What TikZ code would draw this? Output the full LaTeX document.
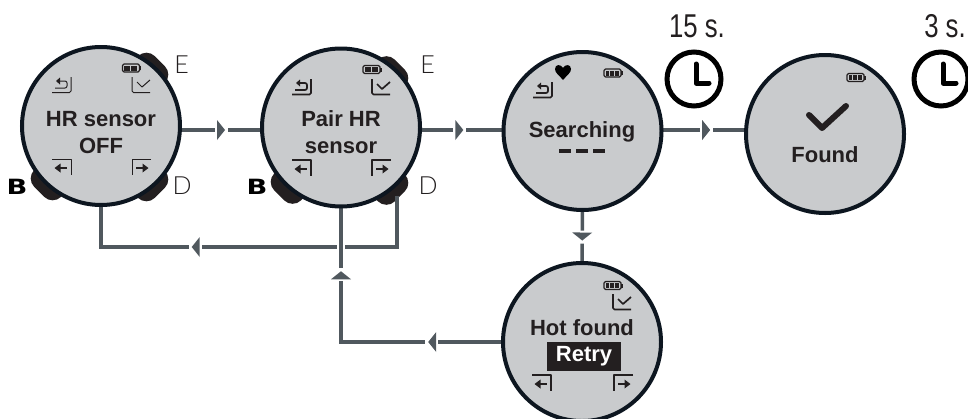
\documentclass[tikz,border=0pt]{standalone}
\usepackage{fontspec}
\setmainfont{Liberation Sans}
\newfontfamily\thinfont{Lato Light}
\newfontfamily\narrowfont[FakeStretch=0.78]{Liberation Sans}
\newfontfamily\widefont[FakeStretch=1.3]{DejaVu Sans Bold}
\usetikzlibrary{%
  calc,%
  backgrounds,%
  decorations.markings%
}
\definecolor{facegray}{HTML}{C9CBCD}
\definecolor{rimblack}{HTML}{0D1620}
\definecolor{flowgray}{HTML}{50585E}
\definecolor{inkblack}{HTML}{231F20}
\tikzset{
  watch/.style={circle,draw=rimblack,fill=facegray,line width=4pt,minimum size=158pt,inner sep=0pt},
  knob/.style={rectangle,rounded corners=12pt,fill=inkblack,minimum width=38pt,minimum height=25pt,inner sep=0pt,rotate=#1},
  screentext/.style={text=inkblack,font=\fontsize{22}{27}\selectfont\bfseries,align=center,inner sep=0pt},
  keylabel/.style={text=inkblack,font=\fontsize{25}{25}\thinfont,inner sep=0pt},
  boldkey/.style={text=black,font=\fontsize{21}{21}\widefont,inner sep=0pt},
  waittext/.style={text=inkblack,font=\fontsize{33}{33}\narrowfont,inner sep=0pt},
  clockface/.style={circle,draw=black,line width=5pt,minimum size=54pt,inner sep=0pt},
  clockhand/.style={black,line width=5pt,line cap=round,line join=round},
  flow/.style={flowgray,line width=3.5pt,line cap=rect},
  tip/.style={postaction=decorate,decoration={markings,mark=at position #1 with {
    \fill[white] (-6pt,-3pt) rectangle (7pt,3pt);
    \fill[flowgray] (-4pt,-10pt) -- (4pt,0pt) -- (-4pt,10pt) -- cycle;}}},
  icon/.style={inkblack,line width=1pt,line join=round},
  boldicon/.style={icon/.append style={line width=1.7pt}},
  pics/backicon/.style={code={
    \draw[icon,rounded corners=1.5pt] (-10,7.5) -- (9,7.5) -- (9,-8);
    \draw[icon,rounded corners=2pt] (-3,-4) -- (5,-4) -- (5,3) -- (-7,3);
    \fill[inkblack] (-6,-4) -- (-2,-7.5) -- (-2,-0.5) -- cycle;}},
  pics/checkicon/.style={code={
    \draw[icon,rounded corners=1.5pt] (-9,-8) -- (-9,7.5) -- (9,7.5);
    \draw[icon] (-4,-3) -- (1,2) -- (9,-5);}},
  pics/lefticon/.style={code={
    \draw[icon] (-10,-8) -- (9,-8) -- (9,8);
    \draw[inkblack,line width=2.6pt] (-2,1) -- (5,1);
    \fill[inkblack] (-7.5,1) -- (-1.5,-3.5) -- (-1.5,5.5) -- cycle;}},
  pics/battery/.style={code={
    \draw[icon,line width=1.2pt,rounded corners=1.5pt] (-9,-4) rectangle (8,4);
    \fill[inkblack] (8,-2) rectangle (9.8,2);
    \foreach \cell in {1,...,#1}
      \fill[inkblack] ({-7.5+(\cell-1)*14/#1},-2.5) rectangle ({-7.5+\cell*14/#1-0.8},2.5);}}
}

\begin{document}
\begin{tikzpicture}[x=1pt,y=-1pt]
  \useasboundingbox (0,0) rectangle (968,418);
  \node[watch] (hroff) at (101,126) {};
  \node[watch] (pair) at (341,127.5) {};
  \node[watch] (search) at (582.5,131) {};
  \node[watch] (found) at (825,134) {};
  \node[watch] (hot) at (582,342) {};
  \coordinate (link) at (0,130);
  \coordinate (rail) at (0,247);
  \coordinate (hotcorner) at (pair |- hot);

  \begin{scope}[on background layer]
    \foreach \face/\ey/\dy/\by in {hroff/-56/58/57,pair/-54/60/59} {
      \node[knob=-45] (\face-e) at ($(\face)+(50,\ey)$) {};
      \node[knob=45] (\face-d) at ($(\face)+(50,\dy)$) {};
      \node[knob=-45] (\face-b) at ($(\face)+(-53,\by)$) {};
    }
    \coordinate (dfoot) at ($(pair-d)+(6,10)$);
    \draw[flow,tip=0.5] (hroff |- link) -- (pair |- link);
    \draw[flow,tip=0.49] (pair |- link) -- (search |- link);
    \draw[flow,tip=0.51] (search |- link) -- (found |- link);
    \draw[flow,tip=0.5] (search) -- (hot);
    \draw[flow] (dfoot) -- (dfoot |- rail);
    \draw[flow,tip=0.68] (dfoot |- rail) -- (hroff |- rail);
    \draw[flow] (hroff |- rail) -- (hroff);
    \draw[white,line width=8pt] ($(pair |- rail)+(0,-3)$) -- ($(pair |- rail)+(0,3)$);
    \draw[flow,tip=0.43] (hot) -- (hotcorner);
    \draw[flow,tip=0.5] (hotcorner) -- (pair);
  \end{scope}

  \node[screentext] (hrofftext) at (101,133) {HR sensor\\OFF};
  \node[screentext] (pairtext) at (341,132.5) {Pair HR\\sensor};
  \node[screentext] (searchtext) at (582,132) {Searching};
  \node[screentext] (foundtext) at (825,155) {Found};
  \node[screentext] (hottext) at (582,328) {Hot found};
  \node[screentext,fill=inkblack,text=white,minimum width=74pt,minimum height=29pt] (retry) at (584,356.5) {Retry};
  \draw[inkblack,line width=4pt,dash pattern=on 12pt off 5pt] ($(searchtext)+(-23,19)$) -- ($(searchtext)+(24,19)$);
  \draw[inkblack,line width=6pt,line cap=round,line join=round] (809,115) -- (822,128) -- (846,106);

  \node[keylabel] (hroffelabel) at (181.5,64.5) {E};
  \node[keylabel] (hroffdlabel) at (182,186) {D};
  \node[boldkey] (hroffblabel) at (17,187) {B};
  \node[keylabel] (pairelabel) at (427.5,64.5) {E};
  \node[keylabel] (pairdlabel) at (428,186) {D};
  \node[boldkey] (pairblabel) at (257,187) {B};

  \node[waittext] (wait15) at (697,26) {15 s.};
  \node[waittext] (wait3) at (945,26) {3 s.};
  \node[clockface] (clock15) at (694,79) {};
  \node[clockface] (clock3) at (941,79) {};
  \foreach \clock in {clock15,clock3}
    \draw[clockhand] ($(\clock)+(2,-15)$) -- ($(\clock)+(2,4)$) -- ($(\clock)+(15,4)$);

  \pic at (131.5,68) {battery=2};
  \pic at (372,69.5) {battery=2};
  \pic at (613,73) {battery=3};
  \pic at (856,77.5) {battery=3};
  \pic at (613,285.5) {battery=3};

  \pic at (62,85) {backicon};
  \pic at (141,85) {checkicon};
  \pic at (62,167) {lefticon};
  \pic[xscale=-1] at (141,167) {lefticon};

  \pic[boldicon] at (302,87) {backicon};
  \pic[boldicon] at (381,87) {checkicon};
  \pic[boldicon] at (302,168) {lefticon};
  \pic[xscale=-1,boldicon] at (381,168) {lefticon};

  \pic[boldicon] at (543,90) {backicon};
  \fill[black] (563,80) .. controls (559,75) and (555,73) .. (555,69) .. controls (555,64) and (561,64) .. (563,68) .. controls (565,64) and (571,64) .. (571,69) .. controls (571,73) and (567,75) .. (563,80) -- cycle;

  \pic[boldicon] at (622,302) {checkicon};
  \pic[boldicon] at (542,383) {lefticon};
  \pic[xscale=-1,boldicon] at (623,383) {lefticon};
\end{tikzpicture}
\end{document}
